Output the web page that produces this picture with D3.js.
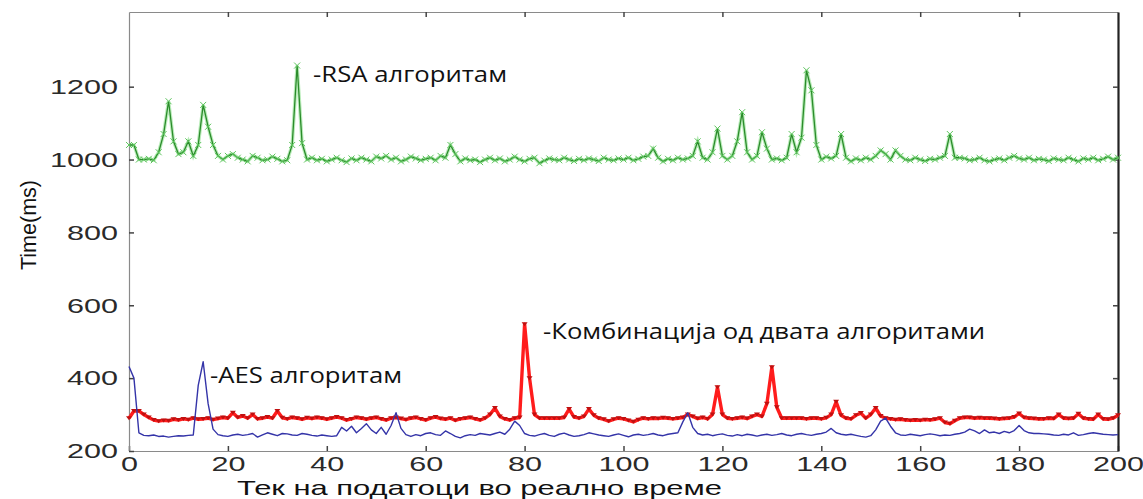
<!DOCTYPE html>
<html><head><meta charset="utf-8">
<script src="https://cdn.jsdelivr.net/npm/d3@7"></script>
<style>body{margin:0;background:#fff}svg{display:block}</style>
</head><body>
<svg id="c" width="1143" height="499"></svg>
<script>
// x positions: 0..200 (data stream index)
const xValues = d3.range(0, 201);

const rsaValues = [
1040,1040,1000,1000,1002,998,1020,1070,1160,1050,
1015,1020,1050,1010,1040,1150,1090,1040,1010,1000,
1010,1015,1005,1000,995,1010,1005,998,1000,1008,
1002,995,998,1040,1258,1045,1000,1005,998,1002,
995,1000,1005,998,993,1003,998,1005,1000,995,
1008,1003,1010,1000,1005,995,1000,1008,1003,998,
1002,1005,998,1010,1005,1040,1015,995,1003,998,
1000,993,1000,1005,998,1003,995,1000,1008,1000,
995,1002,1005,990,997,1003,1000,998,1005,1000,
996,1002,998,1003,1000,996,1005,1000,998,1003,
1000,1005,998,1002,1008,1010,1030,1005,995,1002,
998,1005,1000,1003,1010,1050,1005,1000,1020,1085,
1010,1000,1010,1050,1130,1020,1000,1010,1075,1030,
1000,1003,998,1005,1070,1020,1060,1245,1190,1040,
1000,1008,1003,1010,1070,1005,995,1003,998,1005,
1000,1010,1025,1015,1000,1025,1010,1000,998,1005,
1000,996,1002,1000,1005,1010,1070,1005,1005,1003,
998,1000,1005,998,995,1000,1003,998,1005,1010,
1003,1000,1005,998,1002,1000,996,1003,1000,998,
1005,1000,995,1003,1000,1005,998,1002,1008,1000,
1005];

const comboValues = [
290,310,310,300,292,285,282,284,283,287,
285,288,286,290,287,288,290,286,289,292,
290,305,292,296,290,300,288,290,293,290,
310,291,288,292,290,287,291,289,292,290,
287,290,293,290,285,288,292,290,287,290,
292,288,285,290,292,289,286,290,292,288,
285,290,293,289,287,290,284,288,290,292,
288,285,290,300,318,295,288,285,290,292,
548,400,300,290,290,290,290,290,292,315,
293,290,295,315,298,290,287,282,287,290,
288,284,280,286,290,288,290,289,291,290,
288,290,292,300,295,289,292,288,300,375,
300,290,288,290,292,289,295,300,295,330,
430,320,290,290,290,290,290,288,290,290,
288,291,300,335,298,290,288,298,304,290,
300,318,296,290,288,286,287,285,284,285,
284,286,285,287,290,278,275,283,290,292,
292,290,291,290,290,289,288,289,290,293,
303,292,290,289,288,288,290,289,300,290,
289,290,302,290,288,287,300,288,287,290,
298];

const aesValues = [
432,400,250,243,242,244,240,241,238,240,
242,241,243,244,380,445,330,260,245,242,
240,244,246,243,245,248,238,244,250,246,
242,248,247,244,243,248,246,243,241,244,
242,240,242,265,255,268,250,262,275,258,
248,265,246,270,305,262,245,240,245,242,
248,250,245,243,255,248,240,236,242,245,
243,248,246,244,248,252,246,260,282,270,
248,243,241,245,248,243,240,246,249,244,
240,242,245,250,247,244,242,240,244,247,
243,239,244,246,243,245,248,244,242,246,
248,250,280,305,265,248,244,246,242,245,
247,243,241,245,242,246,244,241,244,246,
243,245,248,244,242,246,248,245,243,246,
248,252,262,250,246,244,246,243,240,238,
242,258,282,290,268,250,244,243,246,244,
242,245,247,245,242,244,243,246,248,252,
260,255,248,258,250,252,248,254,250,256,
270,256,250,248,248,247,246,244,243,246,
244,250,243,245,248,250,248,246,245,244,
245];

const xTicks = [0,20,40,60,80,100,120,140,160,180,200];
const yTicks = [200,400,600,800,1000,1200];
const labels = {
  x: "Тек на податоци во реално време",
  y: "Time(ms)",
  rsa: "-RSA алгоритам",
  aes: "-AES алгоритам",
  combo: "-Комбинација од двата алгоритами"
};

const svg = d3.select("#c");
const L = 129, R = 1118, T = 12, B = 451;
const x = d3.scaleLinear().domain([0,200]).range([L,R]);
const y = d3.scaleLinear().domain([200,1405]).range([B,T]);

const tickFont = "'Liberation Sans', Arial, sans-serif";
const fmt = d3.format("d");

// axes
const gB = svg.append("g").attr("transform",`translate(0,${B})`)
  .call(d3.axisBottom(x).tickValues(xTicks).tickFormat(fmt).tickSizeInner(-5).tickSizeOuter(0).tickPadding(5));
const gT = svg.append("g").attr("transform",`translate(0,${T})`)
  .call(d3.axisTop(x).tickValues(xTicks.slice(1,-1)).tickSizeInner(-5).tickSizeOuter(0).tickFormat(""));
const gL = svg.append("g").attr("transform",`translate(${L},0)`)
  .call(d3.axisLeft(y).tickValues(yTicks).tickFormat(fmt).tickSizeInner(-5).tickSizeOuter(0).tickPadding(11));
const gR = svg.append("g").attr("transform",`translate(${R},0)`)
  .call(d3.axisRight(y).tickValues(yTicks.slice(1)).tickSizeInner(-5).tickSizeOuter(0).tickFormat(""));

[gB,gT,gL].forEach(g=>{
  g.select(".domain").attr("stroke","#8a8a8a").attr("stroke-width",1.2);
  g.selectAll(".tick line").attr("stroke","#444").attr("stroke-width",1.5);
});
gR.select(".domain").attr("stroke","#222").attr("stroke-width",2.2);
gR.selectAll(".tick line").attr("stroke","#444").attr("stroke-width",1.5);

[gB,gL].forEach(g=>{
  g.selectAll(".tick text")
    .attr("font-family",tickFont).attr("font-size",21).attr("fill","#2a2a2a")
    .attr("textLength",d=>String(d).length*17).attr("lengthAdjust","spacingAndGlyphs");
});

// lines
const line = vals => d3.line().x((d,i)=>x(xValues[i])).y(d=>y(d))(vals);

// green RSA
svg.append("path").attr("d",line(rsaValues)).attr("fill","none")
  .attr("stroke","#8be08b").attr("stroke-width",3.5).attr("opacity",0.6);
svg.append("path").attr("d",line(rsaValues)).attr("fill","none")
  .attr("stroke","#2b8c2b").attr("stroke-width",1.3);
svg.append("g").selectAll("path").data(rsaValues).join("path")
  .attr("transform",(d,i)=>`translate(${x(xValues[i])},${y(d)})`)
  .attr("d","M-3,-3L3,3M-3,3L3,-3")
  .attr("stroke","#5cc45c").attr("stroke-width",1).attr("fill","none");

// red combination
svg.append("path").attr("d",line(comboValues)).attr("fill","none")
  .attr("stroke","#ff1c1c").attr("stroke-width",3.4).attr("stroke-linejoin","round");
svg.append("g").selectAll("path").data(comboValues).join("path")
  .attr("transform",(d,i)=>`translate(${x(xValues[i])},${y(d)})`)
  .attr("d","M-3,-2L3,-2L0,2Z")
  .attr("fill","#c01010");

// blue AES
svg.append("path").attr("d",line(aesValues)).attr("fill","none")
  .attr("stroke","#3434a8").attr("stroke-width",1.4).attr("stroke-linejoin","round");

// annotations
const annFont = "'Open Sans', 'Noto Sans', sans-serif";
svg.append("text").attr("x",313).attr("y",82).text(labels.rsa)
  .attr("font-family",annFont).attr("font-size",22).attr("fill","#111")
  .attr("textLength",194).attr("lengthAdjust","spacingAndGlyphs");
svg.append("text").attr("x",210).attr("y",383).text(labels.aes)
  .attr("font-family",annFont).attr("font-size",22).attr("fill","#111")
  .attr("textLength",192).attr("lengthAdjust","spacingAndGlyphs");
svg.append("text").attr("x",543).attr("y",339).text(labels.combo)
  .attr("font-family",annFont).attr("font-size",22).attr("fill","#111")
  .attr("textLength",442).attr("lengthAdjust","spacingAndGlyphs");

// axis titles
svg.append("text").attr("x",237).attr("y",495).text(labels.x)
  .attr("font-family",tickFont).attr("font-size",21).attr("fill","#111")
  .attr("textLength",485).attr("lengthAdjust","spacingAndGlyphs");
svg.append("text").attr("transform","translate(36,225) rotate(-90)")
  .attr("text-anchor","middle").text(labels.y)
  .attr("font-family",tickFont).attr("font-size",22).attr("fill","#111")
  .attr("textLength",90).attr("lengthAdjust","spacingAndGlyphs");
</script>
</body></html>
